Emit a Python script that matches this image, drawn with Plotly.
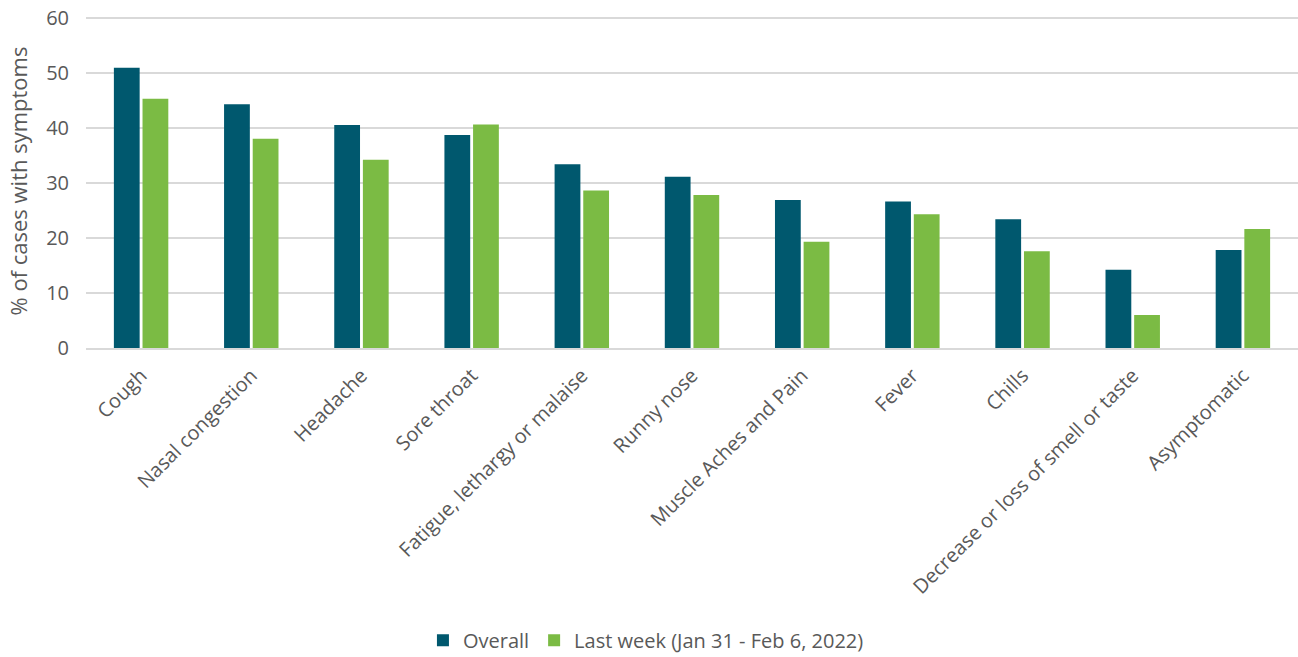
import plotly.graph_objects as go

categories = ["Cough", "Nasal congestion", "Headache", "Sore throat",
              "Fatigue, lethargy or malaise", "Runny nose", "Muscle Aches and Pain",
              "Fever", "Chills", "Decrease or loss of smell or taste", "Asymptomatic"]
overall = [50.9, 44.3, 40.5, 38.7, 33.4, 31.1, 26.9, 26.6, 23.4, 14.2, 17.8]
last_week = [45.3, 38.0, 34.2, 40.6, 28.6, 27.8, 19.3, 24.3, 17.6, 6.0, 21.6]
y_ticks = [0, 10, 20, 30, 40, 50, 60]
y_title = "% of cases with symptoms"

font_family = "Open Sans, sans-serif"
text_color = "#595959"

fig = go.Figure()
fig.add_trace(go.Bar(name="Overall", x=categories, y=overall,
                     marker=dict(color="#00586E", line=dict(width=0))))
fig.add_trace(go.Bar(name="Last week (Jan 31 - Feb 6, 2022)", x=categories, y=last_week,
                     marker=dict(color="#7BBB44", line=dict(width=0))))

fig.update_layout(
    width=1298, height=657,
    margin=dict(l=86, r=0, t=15, b=309, autoexpand=False),
    paper_bgcolor="white", plot_bgcolor="white",
    barmode="group", bargap=0.48, bargroupgap=0.1,
    font=dict(family=font_family, color=text_color, size=20),
    legend=dict(orientation="h", x=0.462, xanchor="center", y=-0.878, yanchor="middle",
                font=dict(size=20, color=text_color), itemsizing="constant",
                traceorder="normal"),
    showlegend=True,
    annotations=[dict(text=y_title, xref="paper", yref="paper", x=-0.0565, y=0.5015,
                      xanchor="center", yanchor="middle", textangle=-90, showarrow=False,
                      font=dict(size=22, color=text_color))],
)
fig.update_xaxes(tickangle=-45, tickfont=dict(size=20, color=text_color),
                 showline=True, linecolor="#D9D9D9", linewidth=2,
                 showgrid=False, ticks="", automargin=False, ticklabelstandoff=6)
fig.update_yaxes(range=[0, 60.5], tickvals=y_ticks, showgrid=True,
                 gridcolor="#D9D9D9", gridwidth=1.5, zeroline=False,
                 tickfont=dict(size=20, color=text_color), ticks="", ticklen=0,
                 ticklabelstandoff=16, automargin=False)

fig.write_html("out.html", config={"displayModeBar": False},
               post_script="document.body.style.margin='0';")
